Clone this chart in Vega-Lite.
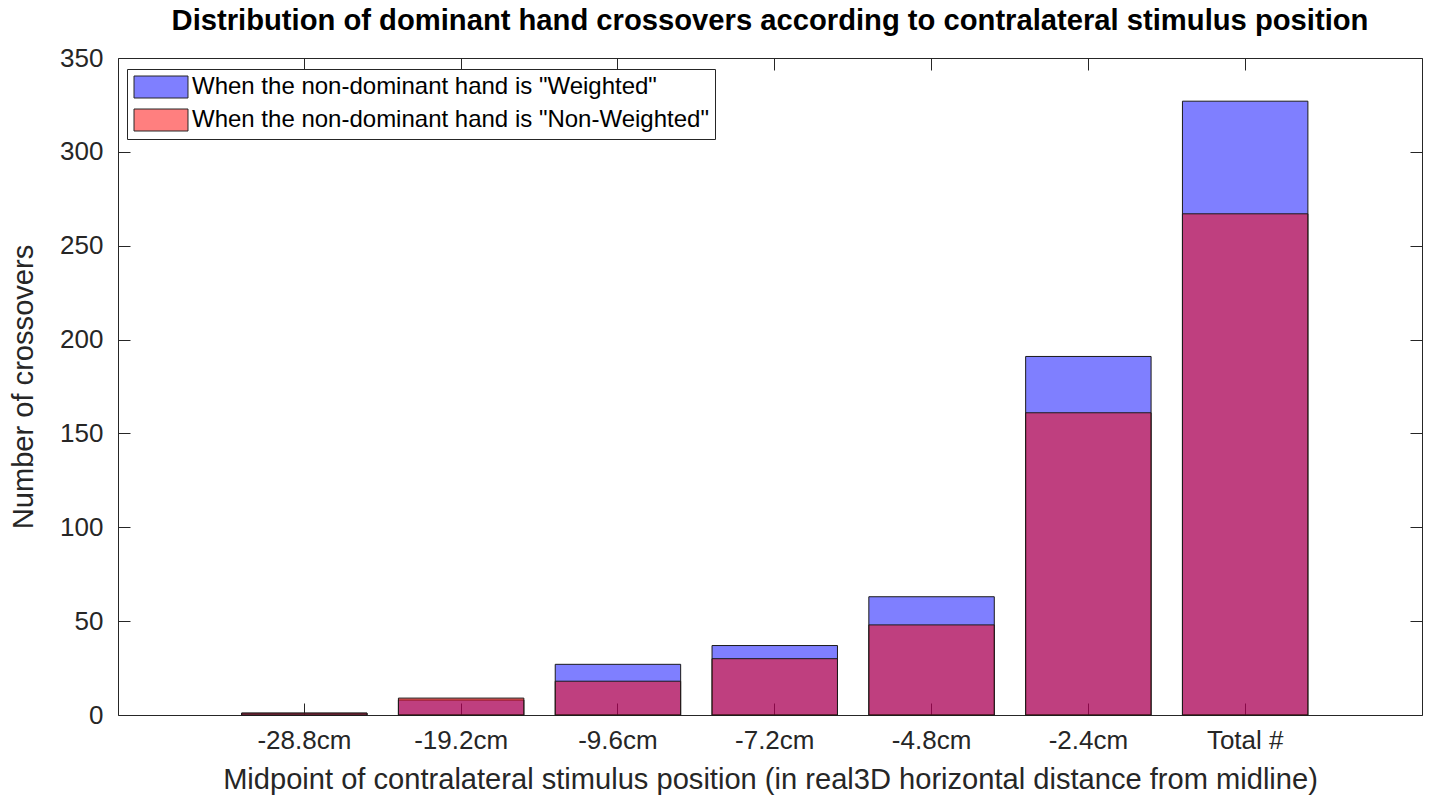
{
  "$schema": "https://vega.github.io/schema/vega-lite/v6.json",
  "width": 1304,
  "height": 657,
  "autosize": {"type": "none"},
  "padding": {"left": 118, "top": 58, "right": 16, "bottom": 80},
  "background": "white",
  "config": {
    "view": {"stroke": "#262626", "strokeWidth": 1},
    "font": "Liberation Sans",
    "axis": {"grid": false, "domain": false, "tickColor": "#262626", "labelColor": "#262626", "titleColor": "#262626", "labelFont": "Liberation Sans", "titleFont": "Liberation Sans", "titleFontWeight": "normal"}
  },
  "title": {"text": "Distribution of dominant hand crossovers according to contralateral stimulus position", "font": "Liberation Sans", "fontSize": 29.2, "fontWeight": "bold", "anchor": "middle", "offset": 9, "color": "black"},
  "data": {"values": [
    {"position": "-28.8cm", "condition": "When the non-dominant hand is \"Weighted\"", "count": 1},
    {"position": "-19.2cm", "condition": "When the non-dominant hand is \"Weighted\"", "count": 8},
    {"position": "-9.6cm", "condition": "When the non-dominant hand is \"Weighted\"", "count": 27},
    {"position": "-7.2cm", "condition": "When the non-dominant hand is \"Weighted\"", "count": 37},
    {"position": "-4.8cm", "condition": "When the non-dominant hand is \"Weighted\"", "count": 63},
    {"position": "-2.4cm", "condition": "When the non-dominant hand is \"Weighted\"", "count": 191},
    {"position": "Total #", "condition": "When the non-dominant hand is \"Weighted\"", "count": 327},
    {"position": "-28.8cm", "condition": "When the non-dominant hand is \"Non-Weighted\"", "count": 1},
    {"position": "-19.2cm", "condition": "When the non-dominant hand is \"Non-Weighted\"", "count": 9},
    {"position": "-9.6cm", "condition": "When the non-dominant hand is \"Non-Weighted\"", "count": 18},
    {"position": "-7.2cm", "condition": "When the non-dominant hand is \"Non-Weighted\"", "count": 30},
    {"position": "-4.8cm", "condition": "When the non-dominant hand is \"Non-Weighted\"", "count": 48},
    {"position": "-2.4cm", "condition": "When the non-dominant hand is \"Non-Weighted\"", "count": 161},
    {"position": "Total #", "condition": "When the non-dominant hand is \"Non-Weighted\"", "count": 267}
  ]},
  "resolve": {"axis": {"x": "independent", "y": "independent"}},
  "layer": [
    {
      "transform": [{"filter": "datum.condition == 'When the non-dominant hand is \"Weighted\"'"}],
      "mark": {"type": "bar", "fillOpacity": 0.5, "stroke": "#1a1a1a", "strokeWidth": 1},
      "encoding": {
        "x": {"field": "position", "type": "nominal", "sort": ["-28.8cm", "-19.2cm", "-9.6cm", "-7.2cm", "-4.8cm", "-2.4cm", "Total #"],
              "scale": {"paddingInner": 0.2, "paddingOuter": 0.758, "align": 0.52},
              "axis": {"orient": "bottom", "title": "Midpoint of contralateral stimulus position (in real3D horizontal distance from midline)", "labelAngle": 0, "tickSize": -12, "labelPadding": 24, "labelFontSize": 26, "titleFontSize": 29.1, "titlePadding": 12}},
        "y": {"field": "count", "type": "quantitative", "stack": null,
              "scale": {"domain": [0, 350], "nice": false},
              "axis": {"orient": "left", "title": "Number of crossovers", "values": [0, 50, 100, 150, 200, 250, 300, 350], "tickSize": -12, "labelPadding": 27, "labelFontSize": 26, "titleFontSize": 29.1, "titlePadding": 21}},
        "color": {"field": "condition", "type": "nominal",
                  "scale": {"domain": ["When the non-dominant hand is \"Weighted\"", "When the non-dominant hand is \"Non-Weighted\""], "range": ["#0000FF", "#FF0000"]},
                  "legend": {"orient": "none", "legendX": 9, "legendY": 11, "title": null, "direction": "vertical",
                             "symbolType": "M-2.4545,-1H2.4545V1H-2.4545Z", "symbolSize": 484, "symbolOffset": 16, "symbolStrokeColor": "#262626", "symbolStrokeWidth": 1,
                             "labelFontSize": 24, "labelFont": "Liberation Sans", "labelColor": "black", "labelLimit": 0, "labelOffset": 19,
                             "padding": 6, "rowPadding": 7, "strokeColor": "#262626", "fillColor": "white", "cornerRadius": 0,
                             "encode": {"symbols": {"update": {"fillOpacity": {"value": 0.5}}}}}}
      }
    },
    {
      "transform": [{"filter": "datum.condition == 'When the non-dominant hand is \"Non-Weighted\"'"}],
      "mark": {"type": "bar", "fillOpacity": 0.5, "stroke": "#1a1a1a", "strokeWidth": 1},
      "encoding": {
        "x": {"field": "position", "type": "nominal", "sort": ["-28.8cm", "-19.2cm", "-9.6cm", "-7.2cm", "-4.8cm", "-2.4cm", "Total #"],
              "axis": {"orient": "top", "title": null, "labels": false, "tickSize": -12}},
        "y": {"field": "count", "type": "quantitative", "stack": null,
              "axis": {"orient": "right", "title": null, "labels": false, "values": [0, 50, 100, 150, 200, 250, 300, 350], "tickSize": -12}},
        "color": {"field": "condition", "type": "nominal"}
      }
    }
  ]
}
